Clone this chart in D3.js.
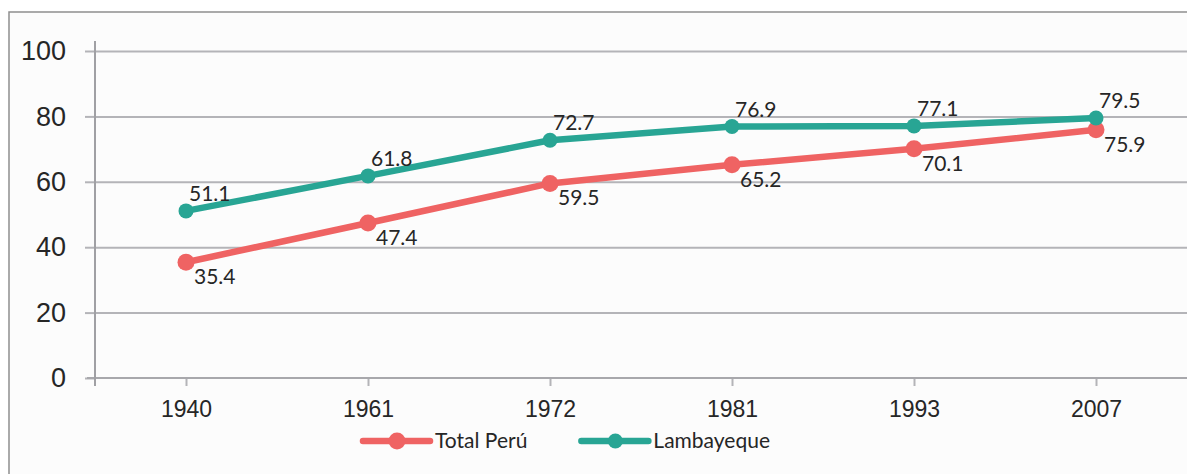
<!DOCTYPE html>
<html>
<head>
<meta charset="utf-8">
<script src="https://cdn.jsdelivr.net/npm/d3@7"></script>
<style>
  html, body { margin: 0; padding: 0; background: #ffffff; }
  svg { display: block; font-family: Lato, "Open Sans", sans-serif; }
</style>
</head>
<body>
<svg id="chart"></svg>
<script>
const years = ["1940", "1961", "1972", "1981", "1993", "2007"];
const totalPeru = [35.4, 47.4, 59.5, 65.2, 70.1, 75.9];
const lambayeque = [51.1, 61.8, 72.7, 76.9, 77.1, 79.5];
const yTicks = [0, 20, 40, 60, 80, 100];

const width = 1187, height = 474;
const plotLeft = 95, plotRight = 1187, plotTop = 51, plotBottom = 378;
const red = "#ef6363", teal = "#28a594";
const ink = "#262626", grid = "#b4b4b8";

const series = [
  {name: "Total Perú", values: totalPeru, color: red, r: 8.5, above: false},
  {name: "Lambayeque", values: lambayeque, color: teal, r: 7.5, above: true}
];

const x = d3.scalePoint().domain(years).range([plotLeft, plotRight]).padding(0.5);
const y = d3.scaleLinear().domain([0, 100]).range([plotBottom, plotTop]);

const svg = d3.select("#chart")
    .attr("width", width)
    .attr("height", height)
    .attr("viewBox", [0, 0, width, height]);

// chart area with border (clipped on the right and bottom like the source)
svg.append("rect")
    .attr("x", 9).attr("y", 12)
    .attr("width", width + 10).attr("height", height + 10)
    .attr("fill", "#fcfcfc")
    .attr("stroke", "#8e8e8e")
    .attr("stroke-width", 1.5);

// gridlines
svg.append("g")
    .attr("transform", `translate(${plotLeft},0)`)
    .call(d3.axisLeft(y).tickValues(yTicks.slice(1)).tickSize(-(plotRight - plotLeft)).tickFormat(""))
    .call(g => g.select(".domain").remove())
    .call(g => g.selectAll("line").attr("stroke", grid).attr("stroke-width", 2));

// y axis
svg.append("g")
    .attr("transform", `translate(${plotLeft},0)`)
    .call(d3.axisLeft(y).tickValues(yTicks).tickSize(10).tickPadding(19))
    .call(g => g.select(".domain").remove())
    .call(g => g.selectAll("line").attr("stroke", grid).attr("stroke-width", 2))
    .call(g => g.selectAll("text").attr("fill", ink).attr("font-size", 27));

// x axis
svg.append("g")
    .attr("transform", `translate(0,${plotBottom})`)
    .call(d3.axisBottom(x).tickSize(8).tickPadding(15))
    .call(g => g.select(".domain").remove())
    .call(g => g.selectAll("line").attr("stroke", grid).attr("stroke-width", 2))
    .call(g => g.selectAll("text").attr("fill", ink).attr("font-size", 23));

svg.append("line")
    .attr("x1", 87).attr("x2", plotRight)
    .attr("y1", plotBottom).attr("y2", plotBottom)
    .attr("stroke", "#a8a8ac").attr("stroke-width", 2);

svg.append("line")
    .attr("x1", plotLeft).attr("x2", plotLeft)
    .attr("y1", 41).attr("y2", 386)
    .attr("stroke", "#a0a0a4").attr("stroke-width", 2);

// lines
const line = d3.line()
    .x((d, i) => x(years[i]))
    .y(d => y(d));

const sg = svg.selectAll("g.series")
  .data(series)
  .join("g")
    .attr("class", "series");

sg.append("path")
    .attr("d", d => line(d.values))
    .attr("fill", "none")
    .attr("stroke", d => d.color)
    .attr("stroke-width", 6.5)
    .attr("stroke-linejoin", "round")
    .attr("stroke-linecap", "round");

sg.selectAll("circle")
  .data(d => d.values.map((v, i) => ({v, i, s: d})))
  .join("circle")
    .attr("cx", d => x(years[d.i]))
    .attr("cy", d => y(d.v))
    .attr("r", d => d.s.r)
    .attr("fill", d => d.s.color);

sg.selectAll("text")
  .data(d => d.values.map((v, i) => ({v, i, s: d})))
  .join("text")
    .attr("x", d => x(years[d.i]) + (d.s.above ? 3 : 8))
    .attr("y", d => y(d.v) + (d.s.above ? -10 : 22))
    .attr("fill", ink)
    .attr("font-size", 21)
    .text(d => d3.format(".1f")(d.v));

// legend
const legend = svg.append("g").attr("transform", "translate(363,441)");
let lx = 0;
series.forEach(s => {
  const item = legend.append("g").attr("transform", `translate(${lx},0)`);
  item.append("line")
      .attr("x1", 0).attr("x2", 67)
      .attr("stroke", s.color).attr("stroke-width", 6.5)
      .attr("stroke-linecap", "round");
  item.append("circle")
      .attr("cx", 34).attr("r", s.r)
      .attr("fill", s.color);
  const t = item.append("text")
      .attr("x", 72).attr("y", 7)
      .attr("fill", ink)
      .attr("font-size", 21)
      .text(s.name);
  lx += 72 + t.node().getComputedTextLength() + 54;
});
</script>
</body>
</html>
